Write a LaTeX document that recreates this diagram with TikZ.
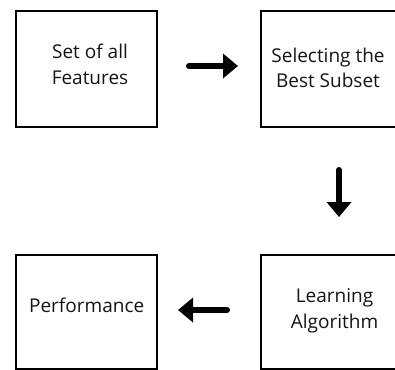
\documentclass[tikz,border=0pt]{standalone}
\usepackage{fontspec}
\setmainfont{Open Sans}
\usetikzlibrary{arrows.meta}
\begin{document}
\begin{tikzpicture}[x=1pt,y=-1pt,
  box/.style={draw, line width=2.7pt, minimum width=141pt, inner sep=0pt, outer sep=0pt},
  txt/.style={align=center, inner sep=0pt, font=\fontsize{19}{25.5}\selectfont, text=black!92},
  flow/.style={line width=6pt, line cap=round, -{Triangle[width=24pt,length=15pt]}}]
\useasboundingbox (0,0) rectangle (395,369);
\node[box, minimum height=116pt] (b1) at (86.5,69) {};
\node[box, minimum height=116pt] (b2) at (331.5,69) {};
\node[box, minimum height=114.5pt] (b3) at (86.5,312.25) {};
\node[box, minimum height=114.5pt] (b4) at (331.5,312.25) {};
\node[txt] (t1) at (90,64.5) {Set of all\\Features};
\node[txt] (t2) at (328,68) {Selecting the\\Best Subset};
\node[txt] (t3) at (86.7,305.5) {Performance};
\node[txt] (t4) at (334.5,311) {Learning\\Algorithm};
\draw[flow, shorten <=32pt, shorten >=23pt] ([yshift=3pt]b1.east) -- ([yshift=3pt]b2.west);
\draw[flow, shorten <=43pt, shorten >=38pt] ([xshift=7.5pt]b2.south) -- ([xshift=7.5pt]b4.north);
\draw[flow, shorten <=34pt, shorten >=21pt] ([yshift=2.25pt]b4.west) -- ([yshift=2.25pt]b3.east);
\end{tikzpicture}
\end{document}
